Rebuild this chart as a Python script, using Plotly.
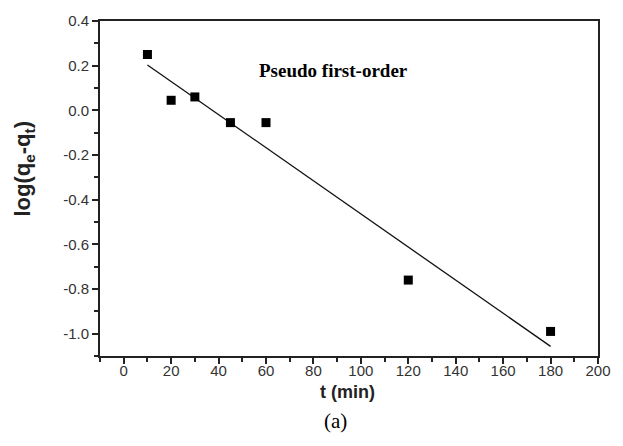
import numpy as np
import plotly.graph_objects as go

t_min = [10, 20, 30, 45, 60, 120, 180]
log_q = [0.25, 0.045, 0.06, -0.055, -0.055, -0.76, -0.99]
x_ticks = [0, 20, 40, 60, 80, 100, 120, 140, 160, 180, 200]
y_ticks = [0.4, 0.2, 0.0, -0.2, -0.4, -0.6, -0.8, -1.0]
y_tick_labels = ["0.4", "0.2", "0.0", "-0.2", "-0.4", "-0.6", "-0.8", "-1.0"]

slope, intercept = np.polyfit(t_min, log_q, 1)
fit_t = np.array([min(t_min), max(t_min)])
fit_y = slope * fit_t + intercept

W, H = 623, 446
ml, mr, mt, mb = 100, 12, 20, 90
SANS = "Arial"
SERIF = "Times New Roman"

fig = go.Figure()
fig.add_trace(go.Scatter(x=fit_t, y=fit_y, mode="lines",
                         line=dict(color="#111111", width=1.3), showlegend=False))
fig.add_trace(go.Scatter(x=t_min, y=log_q, mode="markers",
                         marker=dict(symbol="square", size=9, color="black"),
                         showlegend=False))

axis_common = dict(showline=True, linecolor="#222222", linewidth=2, mirror=True,
                   ticks="outside", ticklen=6, tickwidth=1.5, tickcolor="#222222",
                   showgrid=False, zeroline=False,
                   tickfont=dict(family=SANS, size=15, color="#333333"))

fig.update_xaxes(range=[-10, 200], tickvals=x_ticks, ticklabelstandoff=-6,
                 minor=dict(ticks="outside", ticklen=4, tickwidth=1.5, tickcolor="#222222", dtick=10, tick0=0),
                 **axis_common)
fig.update_yaxes(range=[-1.1, 0.4], tickvals=y_ticks, ticktext=y_tick_labels,
                 minor=dict(ticks="outside", ticklen=4, tickwidth=1.5, tickcolor="#222222", dtick=0.1, tick0=0),
                 **axis_common)

def py(ypix):
    return 1 - (ypix - mt) / (H - mt - mb)

def px(xpix):
    return (xpix - ml) / (W - ml - mr)

ann = dict(xref="paper", yref="paper", showarrow=False, xanchor="center", yanchor="middle")

fig.update_layout(
    width=W, height=H,
    margin=dict(l=ml, r=mr, t=mt, b=mb),
    paper_bgcolor="white", plot_bgcolor="white",
    font=dict(family=SANS),
    annotations=[
        dict(text="<b>Pseudo first-order</b>", x=px(340), y=py(70),
             font=dict(family=SERIF, size=19, color="black"), **ann),
        dict(text="<b>t (min)</b>", x=px(354), y=py(392),
             font=dict(family=SANS, size=18, color="#222222"), **ann),
        dict(text="(a)", x=px(342), y=py(421),
             font=dict(family=SERIF, size=21, color="black"), **ann),
        dict(text="<b>log(q<sub>e</sub>-q<sub>t</sub>)</b>", x=px(22), y=py(168), textangle=-90,
             font=dict(family=SANS, size=22, color="#222222"), **ann),
    ],
)

fig.write_html("out.html")
